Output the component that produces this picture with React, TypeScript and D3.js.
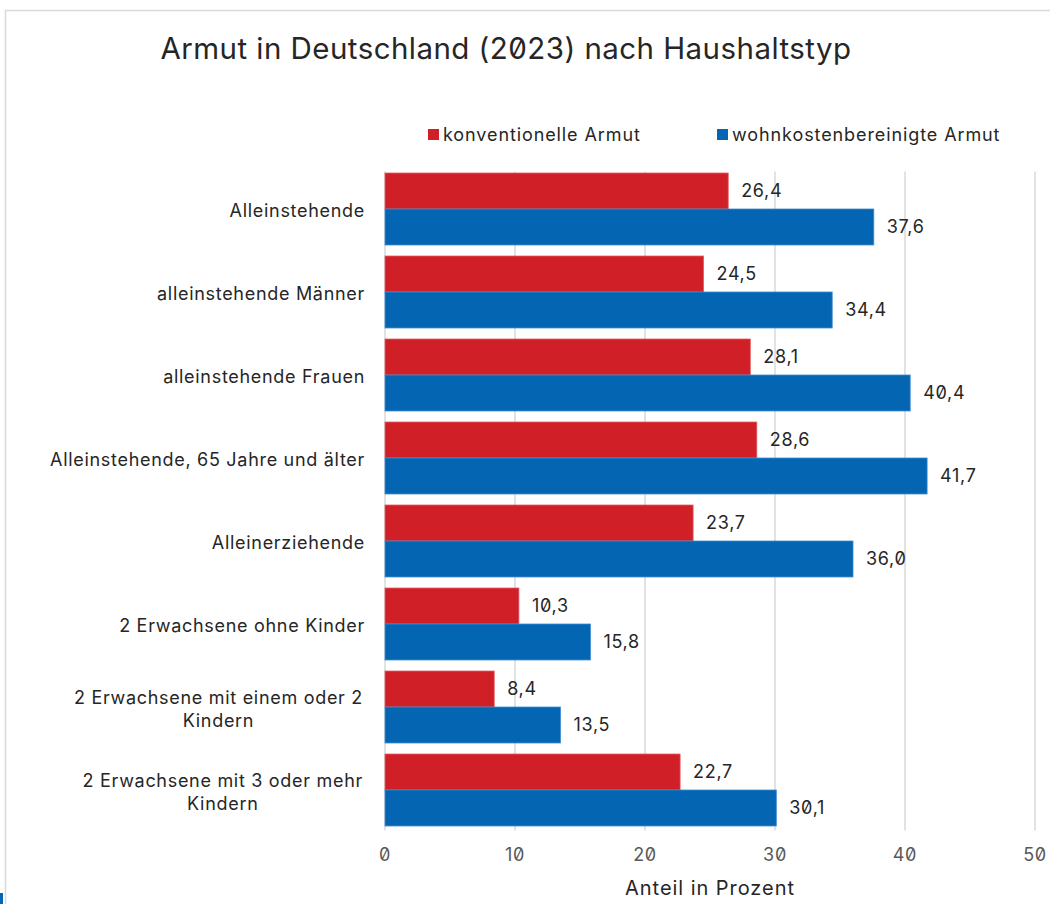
import React, { useEffect, useRef } from "react";
import * as d3 from "d3";

const categories: string[][] = [
  ["Alleinstehende"],
  ["alleinstehende Männer"],
  ["alleinstehende Frauen"],
  ["Alleinstehende, 65 Jahre und älter"],
  ["Alleinerziehende"],
  ["2 Erwachsene ohne Kinder"],
  ["2 Erwachsene mit einem oder 2", "Kindern"],
  ["2 Erwachsene mit 3 oder mehr", "Kindern"],
];
const konventionell = [26.4, 24.5, 28.1, 28.6, 23.7, 10.3, 8.4, 22.7];
const wohnkosten = [37.6, 34.4, 40.4, 41.7, 36.0, 15.8, 13.5, 30.1];
const seriesNames = ["konventionelle Armut", "wohnkostenbereinigte Armut"];
const xTicks = [0, 10, 20, 30, 40, 50];
const title = "Armut in Deutschland (2023) nach Haushaltstyp";
const axisTitle = "Anteil in Prozent";

const RED = "#D11F27";
const BLUE = "#0466B3";
const FONT = "Inter, 'Noto Sans', sans-serif";
const LS = 0.7;

export default function App() {
  const ref = useRef<SVGSVGElement>(null);
  useEffect(() => {
    const svg = d3.select(ref.current);
    svg.selectAll("*").remove();
    const W = 1050, H = 904;
    const left = 385, right = 1035, top = 167.5, bottom = 831.5;

    svg.append("rect").attr("width", W).attr("height", H).attr("fill", "#fff");
    svg.append("rect").attr("x", 5.5).attr("y", 10.5).attr("width", W + 20).attr("height", H + 20)
      .attr("fill", "none").attr("stroke", "#d9d9d9").attr("stroke-width", 1.5);
    svg.append("rect").attr("x", 0).attr("y", 893).attr("width", 3).attr("height", 11).attr("fill", BLUE);

    const x = d3.scaleLinear().domain([0, 50]).range([left, right]);
    const y = d3.scaleBand<number>().domain(d3.range(categories.length)).range([top, bottom]).paddingInner(0.133).paddingOuter(0.0665);
    const inner = d3.scaleBand<number>().domain([0, 1]).range([0, y.bandwidth()]);

    // grid
    svg.append("g").selectAll("line").data(xTicks).join("line")
      .attr("x1", (d) => x(d)).attr("x2", (d) => x(d))
      .attr("y1", top + 4).attr("y2", bottom - 1)
      .attr("stroke", "#d9d9d9").attr("stroke-width", 1.5);

    // title
    svg.append("text").attr("x", 506).attr("y", 59).attr("text-anchor", "middle")
      .attr("font-family", FONT).attr("font-size", 29.5).attr("letter-spacing", 0.45).attr("fill", "#262626")
      .style("font-feature-settings", "'zero' 1").text(title);

    // legend
    const legX = [428, 717];
    seriesNames.forEach((n, i) => {
      svg.append("rect").attr("x", legX[i]).attr("y", 129).attr("width", 11).attr("height", 11)
        .attr("fill", i === 0 ? RED : BLUE);
      svg.append("text").attr("x", legX[i] + 15).attr("y", 141)
        .attr("font-family", FONT).attr("font-size", 18).attr("letter-spacing", 0.9).attr("fill", "#262626").text(n);
    });

    const data = [konventionell, wohnkosten];
    data.forEach((vals, s) => {
      const g = svg.append("g");
      g.selectAll("rect").data(vals).join("rect")
        .attr("x", x(0)).attr("y", (_, i) => (y(i) as number) + (inner(s) as number))
        .attr("width", (d) => x(d) - x(0)).attr("height", inner.bandwidth())
        .attr("fill", s === 0 ? RED : BLUE)
        .attr("stroke", s === 0 ? "#e05a60" : "#3d8ad0").attr("stroke-width", 0.8);
      g.selectAll("text").data(vals).join("text")
        .attr("x", (d) => x(d) + 13)
        .attr("y", (_, i) => (y(i) as number) + (inner(s) as number) + inner.bandwidth() / 2)
        .attr("dy", "0.36em")
        .attr("font-family", FONT).attr("font-size", 18).attr("letter-spacing", LS).attr("fill", "#262626")
        .style("font-feature-settings", "'zero' 1")
        .text((d) => d3.format(".1f")(d).replace(".", ","));
    });

    // category labels
    categories.forEach((lines, i) => {
      const cy = (y(i) as number) + y.bandwidth() / 2 + 2;
      const lh = 23;
      const t = svg.append("text").attr("font-family", FONT).attr("font-size", 18)
        .attr("letter-spacing", LS).attr("fill", "#262626");
      if (lines.length === 1) {
        t.attr("x", 365).attr("y", cy).attr("dy", "0.36em").attr("text-anchor", "end").text(lines[0]);
      } else {
        const probe = svg.append("text").attr("font-family", FONT).attr("font-size", 18)
          .attr("letter-spacing", LS).text(lines[0]);
        const w = (probe.node() as SVGTextElement).getComputedTextLength();
        probe.remove();
        const cx = 363 - w / 2;
        lines.forEach((ln, k) => {
          t.append("tspan").attr("x", cx).attr("text-anchor", "middle")
            .attr("y", cy + (k - (lines.length - 1) / 2) * lh).attr("dy", "0.36em").text(ln);
        });
      }
    });

    // x tick labels
    svg.append("g").selectAll("text").data(xTicks).join("text")
      .attr("x", (d) => x(d)).attr("y", 855).attr("dy", "0.36em").attr("text-anchor", "middle")
      .attr("font-family", FONT).attr("font-size", 18).attr("letter-spacing", LS).attr("fill", "#595959")
      .style("font-feature-settings", "'zero' 1").text((d) => String(d));

    svg.append("text").attr("x", 710).attr("y", 888).attr("dy", "0.36em").attr("text-anchor", "middle")
      .attr("font-family", FONT).attr("font-size", 20).attr("letter-spacing", 0.95).attr("fill", "#262626").text(axisTitle);
  }, []);
  return (
    <svg ref={ref} width={1050} height={904}
      style={{ position: "absolute", left: 0, top: 0, display: "block" }} />
  );
}
